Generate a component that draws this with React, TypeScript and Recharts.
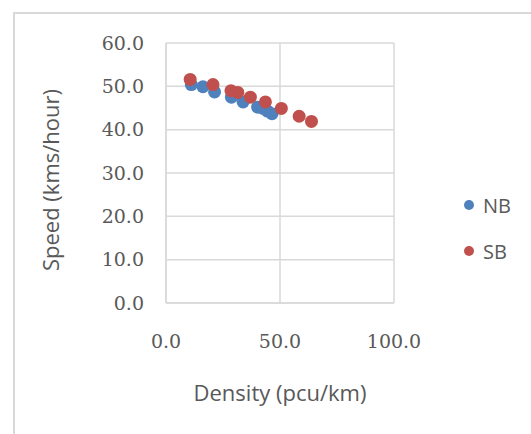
import React from "react";
import {
  ScatterChart,
  Scatter,
  XAxis,
  YAxis,
  CartesianGrid,
} from "recharts";

const nbDensity = [11.1, 16.2, 21.3, 28.7, 33.8, 40.2, 42.6, 44.5, 46.5];
const nbSpeed = [50.4, 49.9, 48.7, 47.5, 46.4, 45.2, 44.9, 44.3, 43.7];
const sbDensity = [10.6, 20.6, 28.5, 31.5, 37.0, 43.6, 50.6, 58.4, 63.8];
const sbSpeed = [51.6, 50.4, 49.0, 48.6, 47.5, 46.4, 44.9, 43.1, 41.9];

const xTicks = [0, 50, 100];
const yTicks = [0, 10, 20, 30, 40, 50, 60];

const seriesNames = ["NB", "SB"];
const seriesColors = ["#4f81bd", "#c0504d"];

const nbData = nbDensity.map((x, i) => ({ x, y: nbSpeed[i] }));
const sbData = sbDensity.map((x, i) => ({ x, y: sbSpeed[i] }));

const GRID = "#d9d9d9";
const TEXT = "#595959";
const TICK_FONT = "'DejaVu Serif', serif";
const LABEL_FONT = "'Open Sans', sans-serif";

const Dot = (props: any) => {
  const { cx, cy, fill } = props;
  return <circle cx={cx} cy={cy} r={6.5} fill={fill} />;
};

const LegendBox = () => (
  <div
    style={{
      position: "absolute",
      left: 462,
      top: 182,
      fontFamily: LABEL_FONT,
      fontSize: 20,
      color: TEXT,
    }}
  >
    {seriesNames.map((n, i) => (
      <div
        key={n}
        style={{ display: "flex", alignItems: "center", height: 46 }}
      >
        <svg width={14} height={14} style={{ marginRight: 7 }}>
          <circle cx={7} cy={7} r={5} fill={seriesColors[i]} />
        </svg>
        <span>{n}</span>
      </div>
    ))}
  </div>
);

const YLabel = (props: any) => {
  const { viewBox } = props;
  const cx = 50;
  const cy = viewBox.y + viewBox.height / 2 + 7;
  return (
    <text
      x={cx}
      y={cy}
      transform={`rotate(-90, ${cx}, ${cy})`}
      textAnchor="middle"
      dominantBaseline="central"
      fontFamily={LABEL_FONT}
      fontSize={22}
      fill={TEXT}
    >
      Speed (kms/hour)
    </text>
  );
};

export default function App() {
  return (
    <div
      style={{
        position: "absolute",
        left: 0,
        top: 0,
        width: 531,
        height: 434,
        overflow: "hidden",
        background: "#fff",
      }}
    >
      <div
        style={{
          position: "absolute",
          left: 13,
          top: 12,
          width: 700,
          height: 700,
          border: "2px solid #d9d9d9",
        }}
      />
      <div style={{ position: "absolute", left: 0, top: 0 }}>
        <ScatterChart
          width={531}
          height={434}
          margin={{ top: 43, right: 137, left: 0, bottom: 0 }}
        >
          <CartesianGrid stroke={GRID} strokeWidth={1.5} />
          <XAxis
            type="number"
            dataKey="x"
            domain={[0, 100]}
            ticks={xTicks}
            tickFormatter={(v: number) => v.toFixed(1)}
            height={131}
            axisLine={{ stroke: GRID, strokeWidth: 1.5 }}
            tickLine={false}
            tickSize={0}
            tickMargin={32}
            tick={{ fill: TEXT, fontFamily: TICK_FONT, fontSize: 19 }}
            label={{
              value: "Density (pcu/km)",
              position: "insideBottom",
              offset: 33,
              fill: TEXT,
              fontFamily: LABEL_FONT,
              fontSize: 22,
            }}
          />
          <YAxis
            type="number"
            dataKey="y"
            domain={[0, 60]}
            ticks={yTicks}
            tickFormatter={(v: number) => v.toFixed(1)}
            width={166}
            axisLine={{ stroke: GRID, strokeWidth: 1.5 }}
            tickLine={false}
            tickSize={0}
            tickMargin={22}
            tick={{ fill: TEXT, fontFamily: TICK_FONT, fontSize: 19 }}
            label={<YLabel />}
          />
          <Scatter
            name="NB"
            data={nbData}
            fill={seriesColors[0]}
            shape={<Dot />}
            isAnimationActive={false}
          />
          <Scatter
            name="SB"
            data={sbData}
            fill={seriesColors[1]}
            shape={<Dot />}
            isAnimationActive={false}
          />
        </ScatterChart>
      </div>
      <LegendBox />
    </div>
  );
}
